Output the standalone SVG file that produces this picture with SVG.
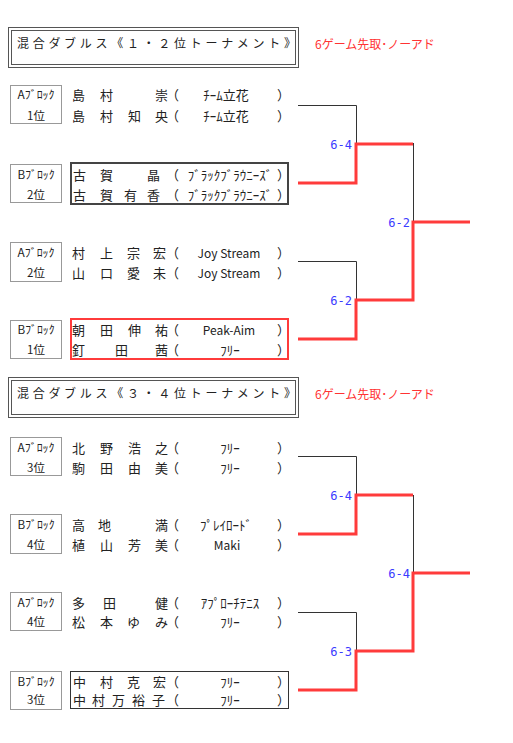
<svg xmlns="http://www.w3.org/2000/svg" width="513" height="743" viewBox="0 0 513 743">
<style>
.t{font-family:"Noto Sans CJK JP","Noto Sans",sans-serif;fill:#222}
.nm{font-size:13px}
.lb{font-size:11.5px;text-anchor:middle}
.tm{font-size:13px;text-anchor:middle}
.tl{font-size:12px;text-anchor:middle}
.ttl{font-size:12px}
.rd{font-family:"Noto Sans CJK JP",sans-serif;font-size:12px;fill:#ff3333}
.sc{font-family:"DejaVu Sans Mono",monospace;font-size:12px;fill:#3b3bff;text-anchor:end}
.lbox{fill:none;stroke:#333;stroke-width:1;stroke-dasharray:1 1}
.tb{fill:none;stroke:#555;stroke-width:1}
.w{fill:none;stroke:#ff3b3b;stroke-width:3}
.l{fill:none;stroke:#333;stroke-width:1}
</style>
<rect width="513" height="743" fill="#fff"/>

<g id="title1">
<rect class="tb" x="8.5" y="27.5" width="290" height="40"/>
<rect class="tb" x="11.5" y="30.5" width="284" height="34"/>
<text class="t ttl" x="17" y="48" textLength="279" lengthAdjust="spacing">混合ダブルス《１・２位トーナメント》</text>
<text class="rd" x="315" y="49">6ゲーム先取･ノーアド</text>
</g>

<g id="b1p1">
<rect class="lbox" x="10.5" y="85.5" width="51" height="38"/>
<text class="t lb" x="36" y="99" textLength="37" lengthAdjust="spacingAndGlyphs">Aﾌﾞﾛｯｸ</text>
<text class="t lb" x="36" y="120">1位</text>
<text class="t nm" x="72 100 155 166" y="100">島村崇（</text>
<text class="t tm" x="226" y="100">ﾁｰﾑ立花</text><text class="t nm" x="277" y="100">）</text>
<text class="t nm" x="72 100 128 155 166" y="121">島村知央（</text>
<text class="t tm" x="226" y="121">ﾁｰﾑ立花</text><text class="t nm" x="277" y="121">）</text>
</g>

<g id="b1p2">
<rect class="lbox" x="10.5" y="164.5" width="51" height="38"/>
<text class="t lb" x="36" y="179" textLength="37" lengthAdjust="spacingAndGlyphs">Bﾌﾞﾛｯｸ</text>
<text class="t lb" x="36" y="199">2位</text>
<rect x="71" y="163" width="217" height="41" fill="none" stroke="#444" stroke-width="2"/>
<text class="t nm" x="73 100 147 166" y="180">古賀晶（</text>
<text class="t tm" x="230" y="180">ﾌﾞﾗｯｸﾌﾞﾗｳﾆｰｽﾞ</text><text class="t nm" x="277" y="180">）</text>
<text class="t nm" x="73 100 124 147 166" y="200">古賀有香（</text>
<text class="t tm" x="230" y="200">ﾌﾞﾗｯｸﾌﾞﾗｳﾆｰｽﾞ</text><text class="t nm" x="277" y="200">）</text>
</g>

<g id="b1p3">
<rect class="lbox" x="10.5" y="242.5" width="51" height="39"/>
<text class="t lb" x="36" y="257" textLength="37" lengthAdjust="spacingAndGlyphs">Aﾌﾞﾛｯｸ</text>
<text class="t lb" x="36" y="277">2位</text>
<text class="t nm" x="72 100 127 153 166" y="258">村上宗宏（</text>
<text class="t tl" x="229" y="258">Joy Stream</text><text class="t nm" x="277" y="258">）</text>
<text class="t nm" x="72 100 127 153 166" y="278">山口愛未（</text>
<text class="t tl" x="229" y="278">Joy Stream</text><text class="t nm" x="277" y="278">）</text>
</g>

<g id="b1p4">
<rect class="lbox" x="10.5" y="320.5" width="51" height="38"/>
<text class="t lb" x="36" y="334" textLength="37" lengthAdjust="spacingAndGlyphs">Bﾌﾞﾛｯｸ</text>
<text class="t lb" x="36" y="354">1位</text>
<rect x="71" y="319" width="217" height="40" fill="none" stroke="#ff3b3b" stroke-width="2"/>
<text class="t nm" x="72 100 128 155 166" y="335">朝田伸祐（</text>
<text class="t tl" x="229" y="335">Peak-Aim</text><text class="t nm" x="277" y="335">）</text>
<text class="t nm" x="72 115 155 166" y="355">釘田茜（</text>
<text class="t tm" x="230" y="355">ﾌﾘｰ</text><text class="t nm" x="277" y="355">）</text>
</g>

<g id="title2">
<rect class="tb" x="8.5" y="377.5" width="290" height="40"/>
<rect class="tb" x="11.5" y="380.5" width="284" height="34"/>
<text class="t ttl" x="17" y="398" textLength="279" lengthAdjust="spacing">混合ダブルス《３・４位トーナメント》</text>
<text class="rd" x="315" y="399">6ゲーム先取･ノーアド</text>
</g>

<g id="b2p1">
<rect class="lbox" x="10.5" y="437.5" width="51" height="38"/>
<text class="t lb" x="36" y="452" textLength="37" lengthAdjust="spacingAndGlyphs">Aﾌﾞﾛｯｸ</text>
<text class="t lb" x="36" y="472">3位</text>
<text class="t nm" x="72 100 128 155 166" y="453">北野浩之（</text>
<text class="t tm" x="230" y="453">ﾌﾘｰ</text><text class="t nm" x="277" y="453">）</text>
<text class="t nm" x="72 100 128 155 166" y="473">駒田由美（</text>
<text class="t tm" x="230" y="473">ﾌﾘｰ</text><text class="t nm" x="277" y="473">）</text>
</g>

<g id="b2p2">
<rect class="lbox" x="10.5" y="514.5" width="51" height="39"/>
<text class="t lb" x="36" y="529" textLength="37" lengthAdjust="spacingAndGlyphs">Bﾌﾞﾛｯｸ</text>
<text class="t lb" x="36" y="549">4位</text>
<text class="t nm" x="72 98 155 166" y="530">高地満（</text>
<text class="t tm" x="226" y="530">ﾌﾟﾚｲﾛｰﾄﾞ</text><text class="t nm" x="277" y="530">）</text>
<text class="t nm" x="72 100 128 155 166" y="550">植山芳美（</text>
<text class="t tl" x="227" y="550">Maki</text><text class="t nm" x="277" y="550">）</text>
</g>

<g id="b2p3">
<rect class="lbox" x="10.5" y="592.5" width="51" height="38"/>
<text class="t lb" x="36" y="607" textLength="37" lengthAdjust="spacingAndGlyphs">Aﾌﾞﾛｯｸ</text>
<text class="t lb" x="36" y="626">4位</text>
<text class="t nm" x="72 103 155 166" y="608">多田健（</text>
<text class="t tm" x="230" y="608">ｱﾌﾟﾛｰﾁﾃﾆｽ</text><text class="t nm" x="277" y="608">）</text>
<text class="t nm" x="72 100 127 155 166" y="627">松本ゆみ（</text>
<text class="t tm" x="230" y="627">ﾌﾘｰ</text><text class="t nm" x="277" y="627">）</text>
</g>

<g id="b2p4">
<rect class="lbox" x="10.5" y="671.5" width="51" height="38"/>
<text class="t lb" x="36" y="686" textLength="37" lengthAdjust="spacingAndGlyphs">Bﾌﾞﾛｯｸ</text>
<text class="t lb" x="36" y="704">3位</text>
<rect x="70.5" y="671.5" width="218" height="37" fill="none" stroke="#333" stroke-width="1"/>
<text class="t nm" x="73 100 127 153 166" y="687">中村克宏（</text>
<text class="t tm" x="230" y="687">ﾌﾘｰ</text><text class="t nm" x="277" y="687">）</text>
<text class="t nm" x="73 92 112 132 152 166" y="705">中村万裕子（</text>
<text class="t tm" x="230" y="705">ﾌﾘｰ</text><text class="t nm" x="277" y="705">）</text>
</g>

<g id="connectors">
<path class="l" d="M298,105.5 H356.5 V143"/>
<path class="l" d="M413.5,143 V222"/>
<path class="l" d="M298,261.5 H356.5 V300"/>
<path class="w" d="M298,183 H356 V144 H413"/>
<path class="w" d="M298,339 H356 V300 H413 V222 H470"/>
<path class="l" d="M298,456.5 H356.5 V495"/>
<path class="l" d="M413.5,495 V573"/>
<path class="l" d="M298,612.5 H356.5 V651"/>
<path class="w" d="M298,534 H356 V495 H413"/>
<path class="w" d="M298,690 H356 V651 H413 V573 H470"/>
</g>

<g id="scores">
<text class="sc" x="352" y="149">6-4</text>
<text class="sc" x="352" y="305">6-2</text>
<text class="sc" x="410" y="227">6-2</text>
<text class="sc" x="352" y="500">6-4</text>
<text class="sc" x="352" y="656">6-3</text>
<text class="sc" x="410" y="578">6-4</text>
</g>
</svg>
